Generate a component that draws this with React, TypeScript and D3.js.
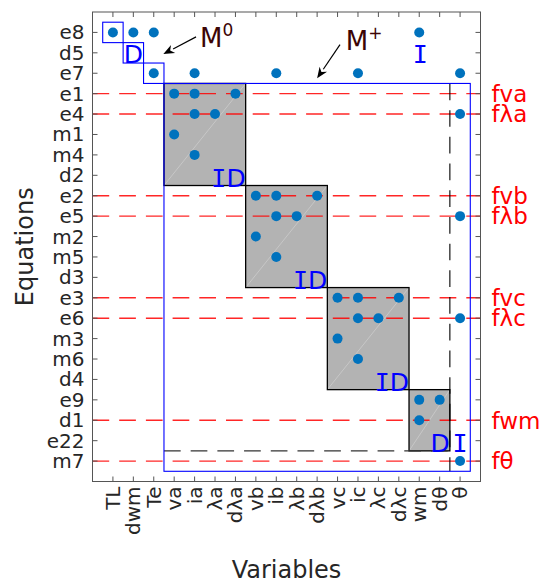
import * as d3 from 'd3';

// axes categories
const variables = ['TL', 'dwm', 'Te', 'va', 'ia', 'λa', 'dλa', 'vb', 'ib', 'λb', 'dλb', 'vc', 'ic', 'λc', 'dλc', 'wm', 'dθ', 'θ'];
const equations = ['e8', 'd5', 'e7', 'e1', 'e4', 'm1', 'm4', 'd2', 'e2', 'e5', 'm2', 'm5', 'd3', 'e3', 'e6', 'm3', 'm6', 'd4', 'e9', 'd1', 'e22', 'm7'];

// nonzero entries of the incidence matrix [equation, variable]
const incidence: [string, string][] = [
    ['e8', 'TL'], ['e8', 'dwm'], ['e8', 'Te'], ['e8', 'wm'],
    ['e7', 'Te'], ['e7', 'ia'], ['e7', 'ib'], ['e7', 'ic'], ['e7', 'θ'],
    ['e1', 'va'], ['e1', 'ia'], ['e1', 'dλa'],
    ['e4', 'ia'], ['e4', 'λa'], ['e4', 'θ'],
    ['m1', 'va'], ['m4', 'ia'],
    ['e2', 'vb'], ['e2', 'ib'], ['e2', 'dλb'],
    ['e5', 'ib'], ['e5', 'λb'], ['e5', 'θ'],
    ['m2', 'vb'], ['m5', 'ib'],
    ['e3', 'vc'], ['e3', 'ic'], ['e3', 'dλc'],
    ['e6', 'ic'], ['e6', 'λc'], ['e6', 'θ'],
    ['m3', 'vc'], ['m6', 'ic'],
    ['e9', 'wm'], ['e9', 'dθ'], ['d1', 'wm'],
    ['m7', 'θ'],
];

// fault rows (red dashed) and their labels
const faultRows = ['e1', 'e4', 'e2', 'e5', 'e3', 'e6', 'd1', 'm7'];
const faultLabels = ['fva', 'fλa', 'fvb', 'fλb', 'fvc', 'fλc', 'fwm', 'fθ'];

// gray diagonal blocks: [first row, last row], [first col, last col], label
const blockRows = [['e1', 'd2'], ['e2', 'd3'], ['e3', 'd4'], ['e9', 'e22']];
const blockCols = [['va', 'dλa'], ['vb', 'dλb'], ['vc', 'dλc'], ['wm', 'dθ']];
const blockLabels = ['ID', 'ID', 'ID', 'D'];

// M0 part: single cells outlined in blue
const m0Cells: [string, string][] = [['e8', 'TL'], ['d5', 'dwm'], ['e7', 'Te']];

const W = 541;
const H = 583;
const left = 92.5, right = 480.5, top = 12, bottom = 481.5;

const x = d3.scalePoint<string>().domain(variables).range([left, right]).padding(1);
const y = d3.scalePoint<string>().domain(equations).range([top, bottom]).padding(1);
// continuous versions for annotations (category i sits at i + 1)
const xl = d3.scaleLinear().domain([0, variables.length + 1]).range([left, right]);
const yl = d3.scaleLinear().domain([0, equations.length + 1]).range([top, bottom]);

const sx = x.step() / 2;
const sy = y.step() / 2;

const FONT = '"DejaVu Sans", Verdana, sans-serif';
const MONO = '"DejaVu Sans Mono", monospace';
const TXT = '#262626';
const DOT = '#0072bd';
const BLUE = '#0000ff';

const Letters = ({ s }: { s: string }) => (
    <>
        {s.split('').map((c, i) => (
            <tspan key={i} fontFamily={c === 'I' ? MONO : FONT}>{c}</tspan>
        ))}
    </>
);

const Arrow = ({ x1, y1, x2, y2 }: { x1: number; y1: number; x2: number; y2: number }) => {
    const a = Math.atan2(y2 - y1, x2 - x1);
    const len = 11, wid = 4.5;
    const bx = x2 - len * Math.cos(a), by = y2 - len * Math.sin(a);
    const p = [
        [x2, y2],
        [bx + wid * Math.sin(a), by - wid * Math.cos(a)],
        [x2 - 0.7 * len * Math.cos(a), y2 - 0.7 * len * Math.sin(a)],
        [bx - wid * Math.sin(a), by + wid * Math.cos(a)],
    ];
    return (
        <g>
            <line x1={x1} y1={y1} x2={bx} y2={by} stroke="#000" strokeWidth={1.2} />
            <polygon points={p.map(d => d.join(',')).join(' ')} fill="#000" />
        </g>
    );
};

export default function App() {
    const mpLeft = x('va')! - sx;
    const mpRight = x('θ')! + sx;
    const mpTop = y('e1')! - sy;
    const mpBottom = y('m7')! + sy;
    const dashX = x('dθ')! + sx;
    const dashY = y('e22')! + sy;

    return (
        <svg width={W} height={H} style={{ position: 'absolute', left: 0, top: 0 }} fontFamily={FONT}>
            <rect width={W} height={H} fill="#fff" />

            {/* gray blocks */}
            {blockRows.map((r, i) => {
                const x0 = x(blockCols[i][0])! - sx, x1 = x(blockCols[i][1])! + sx;
                const y0 = y(r[0])! - sy, y1 = y(r[1])! + sy;
                return (
                    <g key={'b' + i}>
                        <rect x={x0} y={y0} width={x1 - x0} height={y1 - y0} fill="#b3b3b3" />
                        <line x1={x0} y1={y1} x2={x1} y2={y0} stroke="#fff" strokeWidth={0.6} opacity={0.45} />
                    </g>
                );
            })}

            {/* fault rows */}
            {faultRows.map(r => (
                <line key={'f' + r} x1={left} x2={right} y1={y(r)} y2={y(r)}
                    stroke="#ff0000" strokeOpacity={0.85} strokeWidth={1.4} strokeDasharray="16.7,10" />
            ))}

            {/* block borders */}
            {blockRows.map((r, i) => {
                const x0 = x(blockCols[i][0])! - sx, x1 = x(blockCols[i][1])! + sx;
                const y0 = y(r[0])! - sy, y1 = y(r[1])! + sy;
                return <rect key={'bb' + i} x={x0} y={y0} width={x1 - x0} height={y1 - y0}
                    fill="none" stroke="#000" strokeWidth={1.3} />;
            })}

            {/* black dashed separators */}
            <line x1={dashX} x2={dashX} y1={mpTop} y2={mpBottom} stroke="#000" strokeWidth={1.1} strokeDasharray="16.7,10" />
            <line x1={mpLeft} x2={dashX} y1={dashY} y2={dashY} stroke="#333" strokeWidth={1.1} strokeDasharray="16.7,10" />

            {/* blue outlines */}
            {m0Cells.map(([r, c]) => (
                <rect key={'m0' + r} x={x(c)! - sx} y={y(r)! - sy} width={2 * sx} height={2 * sy}
                    fill="none" stroke={BLUE} strokeWidth={1.1} />
            ))}
            <rect x={mpLeft} y={mpTop} width={mpRight - mpLeft} height={mpBottom - mpTop}
                fill="none" stroke={BLUE} strokeWidth={1.1} />

            {/* dots */}
            {incidence.map(([r, c], i) => (
                <circle key={'d' + i} cx={x(c)} cy={y(r)} r={5} fill={DOT} />
            ))}

            {/* block labels */}
            {blockRows.map((r, i) => (
                <text key={'bl' + i} x={x(blockCols[i][1])! + sx} y={y(r[1])! + sy + 1}
                    textAnchor="end" fontSize={25} fill={BLUE}>
                    <Letters s={blockLabels[i]} />
                </text>
            ))}
            <text x={x('θ')} y={dashY + 1} textAnchor="middle" fontSize={25} fill={BLUE} fontFamily={MONO}>I</text>
            <text x={x('dwm')} y={y('d5')! + sy} textAnchor="middle" fontSize={25} fill={BLUE}>D</text>
            <text x={x('wm')! + 1} y={y('d5')! + sy} textAnchor="middle" fontSize={25} fill={BLUE} fontFamily={MONO}>I</text>

            {/* annotations */}
            <Arrow x1={xl(5.07)} y1={yl(1.22)} x2={xl(3.47)} y2={yl(2.06)} />
            <text x={xl(5.27)} y={yl(1.72)} fontSize={26} fill="#3c0505">
                M<tspan fontSize={17} dy={-11}>0</tspan>
            </text>
            <Arrow x1={xl(12.12)} y1={yl(1.6)} x2={xl(11.0)} y2={yl(3.25)} />
            <text x={xl(12.4)} y={yl(1.86)} fontSize={26} fill="#3c0505">
                M<tspan fontSize={17} dy={-11}>+</tspan>
            </text>

            {/* frame and ticks */}
            <rect x={left} y={top} width={right - left} height={bottom - top} fill="none" stroke="#555" strokeWidth={1} />
            {variables.map(v => (
                <g key={'xt' + v}>
                    <line x1={x(v)} x2={x(v)} y1={bottom} y2={bottom - 5} stroke="#555" />
                    <line x1={x(v)} x2={x(v)} y1={top} y2={top + 5} stroke="#555" />
                    <text transform={`translate(${x(v)},${bottom + 5}) rotate(-90)`} textAnchor="end"
                        dy="0.35em" fontSize={20} fill={TXT}>{v}</text>
                </g>
            ))}
            {equations.map(e => (
                <g key={'yt' + e}>
                    <line x1={left} x2={left + 5} y1={y(e)} y2={y(e)} stroke="#555" />
                    <line x1={right} x2={right - 5} y1={y(e)} y2={y(e)} stroke="#555" />
                    <text x={left - 8} y={y(e)} textAnchor="end" dy="0.35em" fontSize={20} fill={TXT}>{e}</text>
                </g>
            ))}
            {faultRows.map((r, i) => (
                <text key={'fl' + r} x={right + 11} y={y(r)} dy="0.36em" fontSize={23} fill="#ff0000">{faultLabels[i]}</text>
            ))}

            <text transform={`translate(25,${(top + bottom) / 2}) rotate(-90)`} textAnchor="middle" dy="0.35em"
                fontSize={24} fill={TXT}>Equations</text>
            <text x={(left + right) / 2} y={578} textAnchor="middle" fontSize={24} fill={TXT}>Variables</text>
        </svg>
    );
}
